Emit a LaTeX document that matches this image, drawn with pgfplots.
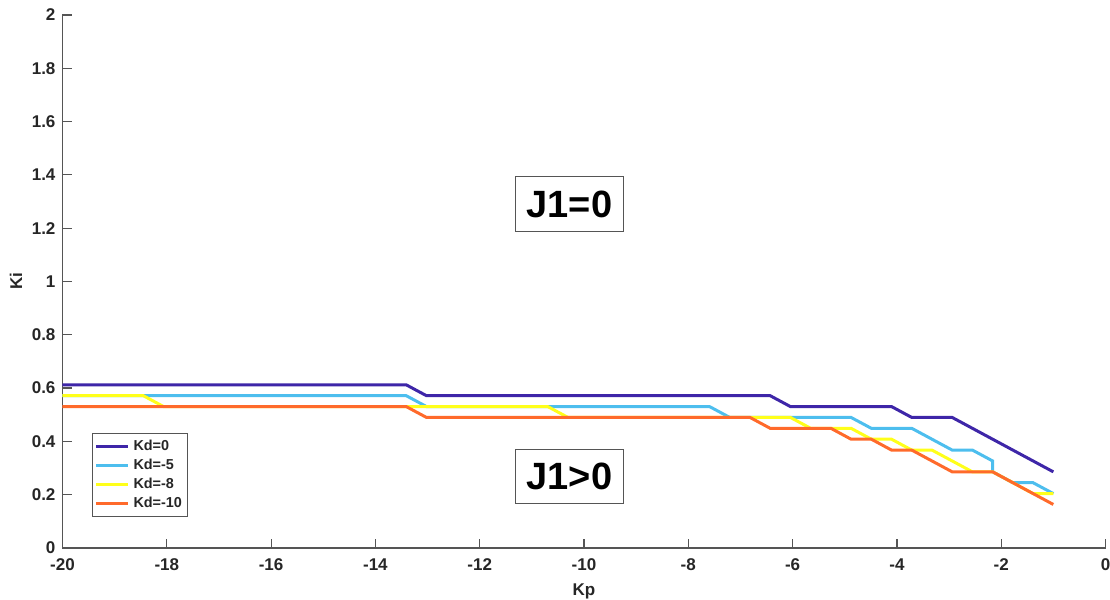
\documentclass[border=0pt]{standalone}
\usepackage{pgfplots}
\pgfplotsset{compat=1.18}
\usepackage{fontspec}
\setmainfont{Liberation Sans}
\definecolor{cA}{HTML}{3E26A8}
\definecolor{cB}{HTML}{4DBEEE}
\definecolor{cC}{HTML}{FFFF1A}
\definecolor{cD}{HTML}{FF6A2B}
\definecolor{axgray}{HTML}{555555}
\definecolor{txt}{HTML}{262626}
\begin{document}
\begin{tikzpicture}
\useasboundingbox (-31.25pt,-26pt) rectangle (523.75pt,274pt);
\begin{axis}[
  width=521.5pt, height=266.5pt, scale only axis,
  xmin=-20, xmax=0, ymin=0, ymax=2,
  axis x line*=bottom, axis y line*=left,
  axis line style={axgray, line width=0.6pt},
  xtick={-20,-18,...,0}, ytick={0,0.2,...,2},
  tick align=inside, major tick length=4.7pt,
  tick style={axgray, line width=0.6pt},
  /pgf/number format/assume math mode=true,
  ticklabel style={font=\bfseries\fontsize{8.5}{9}\selectfont, text=txt},
  xticklabel style={yshift=-2pt},
  yticklabel style={/pgf/number format/fixed, /pgf/number format/precision=1},
  xlabel={Kp}, ylabel={Ki},
  label style={font=\bfseries\fontsize{8.5}{9}\selectfont, text=txt},
  xlabel style={yshift=0.5pt},
  ylabel style={yshift=-2pt},
  legend cell align=left,
  legend style={at={(0.0283,0.0582)}, anchor=south west, draw=axgray, line width=0.5pt,
    font=\bfseries\fontsize{7.2}{8}\selectfont, text=txt, inner sep=1pt,
    row sep=-1.2pt},
  legend image code/.code={\draw[#1, line width=1.5pt] (0pt,0pt) -- (16pt,0pt);},
  every axis plot/.append style={line width=1.5pt, line join=miter},
]
\addplot[cA] coordinates {(-20,0.6122) (-13.408,0.6122) (-13.020,0.5714) (-6.429,0.5714) (-6.041,0.5306) (-4.102,0.5306) (-3.714,0.4898) (-2.939,0.4898) (-1.000,0.2857)};
\addlegendentry{Kd=0}
\addplot[cB] coordinates {(-20,0.5714) (-13.408,0.5714) (-13.020,0.5306) (-7.592,0.5306) (-7.204,0.4898) (-4.878,0.4898) (-4.490,0.4490) (-3.714,0.4490) (-2.939,0.3673) (-2.551,0.3673) (-2.163,0.3265) (-2.163,0.2857) (-1.776,0.2449) (-1.388,0.2449) (-1.000,0.2041)};
\addlegendentry{Kd=-5}
\addplot[cC] coordinates {(-20,0.5714) (-18.449,0.5714) (-18.061,0.5306) (-10.694,0.5306) (-10.306,0.4898) (-6.041,0.4898) (-5.653,0.4490) (-4.878,0.4490) (-4.490,0.4082) (-4.102,0.4082) (-3.714,0.3673) (-3.327,0.3673) (-2.551,0.2857) (-2.163,0.2857) (-1.388,0.2041) (-1.000,0.2041)};
\addlegendentry{Kd=-8}
\addplot[cD] coordinates {(-20,0.5306) (-13.408,0.5306) (-13.020,0.4898) (-6.816,0.4898) (-6.429,0.4490) (-5.265,0.4490) (-4.878,0.4082) (-4.490,0.4082) (-4.102,0.3673) (-3.714,0.3673) (-2.939,0.2857) (-2.163,0.2857) (-1.000,0.1633)};
\addlegendentry{Kd=-10}
\node[draw=axgray, line width=0.5pt, fill=white, minimum width=54pt, minimum height=27.5pt, inner sep=0pt,
  font=\bfseries\fontsize{19}{20}\selectfont] at (axis cs:-10.28,1.291) {J1=0};
\node[draw=axgray, line width=0.5pt, fill=white, minimum width=54pt, minimum height=27pt, inner sep=0pt,
  font=\bfseries\fontsize{19}{20}\selectfont] at (axis cs:-10.28,0.268) {J1>0};
\end{axis}
\end{tikzpicture}
\end{document}
